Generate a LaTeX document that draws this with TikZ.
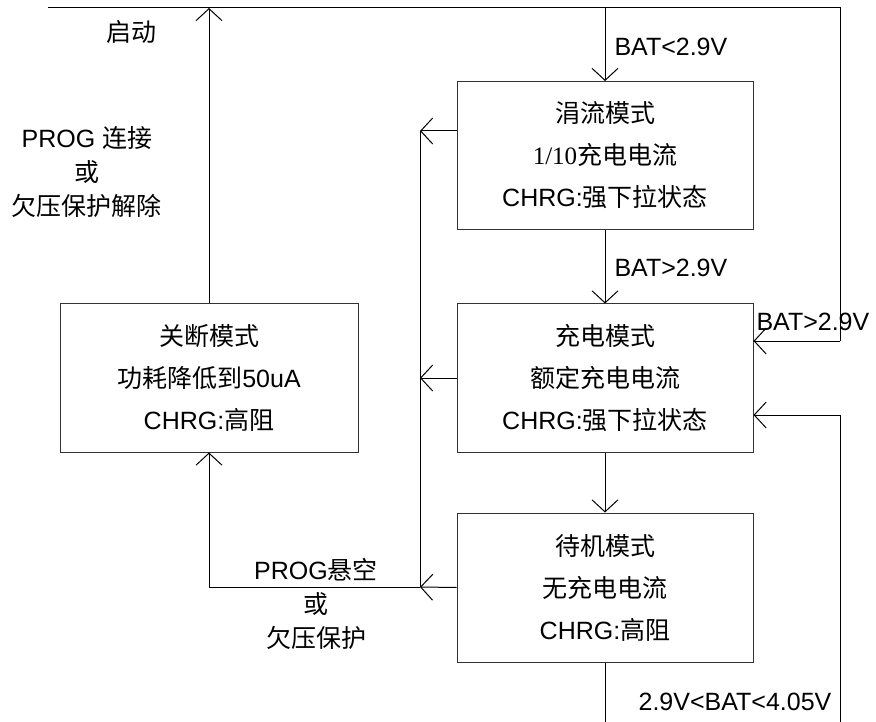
\documentclass[tikz,border=0pt]{standalone}
\usepackage{fontspec}
\setmainfont{Liberation Sans}
\newfontfamily\cjk{Noto Sans CJK SC}
\newfontfamily\tms{Liberation Serif}
\newcommand{\ZH}[1]{{\cjk #1}}
\usetikzlibrary{arrows.meta}
\begin{document}
\begin{tikzpicture}[x=1pt,y=-1pt,
  line width=1pt,
  box/.style={draw=black!80, minimum width=296pt, minimum height=148pt, align=center, inner sep=0pt, font=\fontsize{25}{42}\selectfont},
  lbl/.style={inner sep=0pt, align=center, font=\fontsize{25}{34}\selectfont},
  arr/.style={-{Straight Barb[length=12pt,width=26pt]}}]
\useasboundingbox (0,0) rectangle (876,722);
% boxes
\node[box] (trickle) at (605,155.5) {\ZH{涓流模式}\\{\tms 1/10}\ZH{充电电流}\\CHRG:\ZH{强下拉状态}};
\node[box] (charge) at (605,378) {\ZH{充电模式}\\\ZH{额定充电电流}\\CHRG:\ZH{强下拉状态}};
\node[box, minimum width=298pt] (shut) at (209,378) {\ZH{关断模式}\\\ZH{功耗降低到}50uA\\CHRG:\ZH{高阻}};
\node[box, minimum height=149pt] (stand) at (605,587.5) {\ZH{待机模式}\\\ZH{无充电电流}\\CHRG:\ZH{高阻}};
% coordinates
\coordinate (topL) at (48,8);
\coordinate (topR) at (840,8);
\coordinate (rA) at (840,341);
\coordinate (rB) at (840,415);
\coordinate (rBot) at (840,722);
\coordinate (mBot) at (605,722);
\coordinate (bT) at (420,131);
\coordinate (bB) at (420,587);
% top loop
\draw (topL) -- (topR) -- (rA);
\draw[arr] (rA) -- (rA -| charge.east);
\draw[arr] (shut.north) -- (shut.north |- topL);
\draw[arr] (trickle.north |- topL) -- (trickle.north);
% vertical chain
\draw[arr] (trickle.south) -- (charge.north);
\draw[arr] (charge.south) -- (stand.north);
% left bus
\draw (bT) -- (bB);
\draw[arr] (bT -| trickle.west) -- (bT);
\draw[arr] (charge.west) -- (charge.west -| bT);
\draw[arr] (stand.west) -- (bB);
\draw[arr] (bB) -| (shut.south);
% bottom
\draw (stand.south) -- (mBot);
\draw (rBot) -- (rB);
\draw[arr] (rB) -- (rB -| charge.east);
% labels
\node[lbl] (l1) at (131,32) {\ZH{启动}};
\node[lbl] (l2) at (87,172) {PROG \ZH{连接}\\\ZH{或}\\\ZH{欠压保护解除}};
\node[lbl, anchor=west] (l3) at (614,47) {BAT<2.9V};
\node[lbl, anchor=west] (l4) at (614,268) {BAT>2.9V};
\node[lbl, anchor=west] (l5) at (756,322) {BAT>2.9V};
\node[lbl] (l6) at (316,604) {PROG\ZH{悬空}\\\ZH{或}\\\ZH{欠压保护}};
\node[lbl] (l7) at (735,702) {2.9V<BAT<4.05V};
\end{tikzpicture}
\end{document}
